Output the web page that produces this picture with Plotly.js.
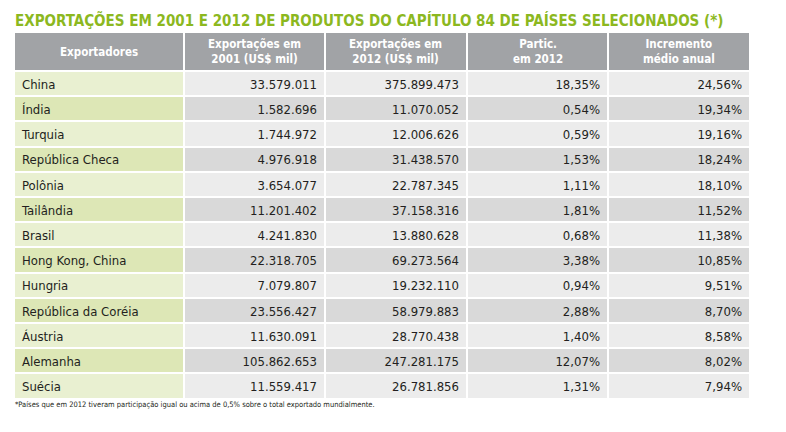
<!DOCTYPE html>
<html>
<head>
<meta charset="utf-8">
<script src="https://cdn.plot.ly/plotly-3.0.1.min.js"></script>
<style>
  html, body { margin: 0; padding: 0; background: #fff; }
  #chart { width: 786px; height: 432px; }
</style>
</head>
<body>
<div id="chart"></div>
<script>
const headers = [
  'Exportadores',
  'Exportações em<br>2001 (US$ mil)',
  'Exportações em<br>2012 (US$ mil)',
  'Partic.<br>em 2012',
  'Incremento<br>médio anual'
];
const exporters = [
  'China', 'Índia', 'Turquia', 'República Checa', 'Polônia', 'Tailândia', 'Brasil',
  'Hong Kong, China', 'Hungria', 'República da Coréia', 'Áustria', 'Alemanha', 'Suécia'
];
const exp2001 = [
  '33.579.011', '1.582.696', '1.744.972', '4.976.918', '3.654.077', '11.201.402', '4.241.830',
  '22.318.705', '7.079.807', '23.556.427', '11.630.091', '105.862.653', '11.559.417'
];
const exp2012 = [
  '375.899.473', '11.070.052', '12.006.626', '31.438.570', '22.787.345', '37.158.316', '13.880.628',
  '69.273.564', '19.232.110', '58.979.883', '28.770.438', '247.281.175', '26.781.856'
];
const share2012 = [
  '18,35%', '0,54%', '0,59%', '1,53%', '1,11%', '1,81%', '0,68%',
  '3,38%', '0,94%', '2,88%', '1,40%', '12,07%', '1,31%'
];
const growth = [
  '24,56%', '19,34%', '19,16%', '18,24%', '18,10%', '11,52%', '11,38%',
  '10,85%', '9,51%', '8,70%', '8,58%', '8,02%', '7,94%'
];

const FONT = '"DejaVu Sans Condensed", "Liberation Sans", sans-serif';
const W = 786, H = 432;
const colWidths = [170, 141, 142, 141, 142];
const tableLeft = 14, tableRight = 750;

const greenFill = exporters.map((_, i) => i % 2 === 0 ? '#e9f0d1' : '#dde7b6');
const grayFill = exporters.map((_, i) => i % 2 === 0 ? '#ececec' : '#d9d9d9');

// plotly grows the header row to fit two lines of text plus padding,
// so header labels go on as annotations over an empty header row
const trace = {
  type: 'table',
  domain: { x: [tableLeft / W, tableRight / W], y: [0, 1 - 32 / H] },
  columnwidth: colWidths,
  header: {
    values: headers.map(() => ''),
    height: 39,
    fill: { color: '#a1a3a6' },
    line: { color: '#ffffff', width: 2 },
    font: { family: FONT, size: 11.5, color: '#ffffff' }
  },
  cells: {
    values: [exporters, exp2001, exp2012, share2012, growth],
    align: ['left', 'right', 'right', 'right', 'right'],
    height: 25.2,
    fill: { color: [greenFill, grayFill, grayFill, grayFill, grayFill] },
    line: { color: '#ffffff', width: 2 },
    font: { family: FONT, size: 13, color: '#231f20' }
  }
};

const total = colWidths.reduce((a, b) => a + b, 0);
let acc = 0;
const headerNotes = headers.map((h, i) => {
  const w = colWidths[i] / total * (tableRight - tableLeft);
  const cx = tableLeft + acc + w / 2;
  acc += w;
  return {
    text: '<b>' + h + '</b>',
    xref: 'paper', yref: 'paper',
    x: cx / W, y: 1 - 52 / H,
    xanchor: 'center', yanchor: 'middle',
    showarrow: false,
    font: { family: FONT, size: 11.5, color: '#ffffff' }
  };
});

const layout = {
  width: W,
  height: H,
  margin: { l: 0, r: 0, t: 0, b: 0 },
  paper_bgcolor: '#ffffff',
  showlegend: false,
  annotations: [
    {
      text: '<b>EXPORTAÇÕES EM 2001 E 2012 DE PRODUTOS DO CAPÍTULO 84 DE PAÍSES SELECIONADOS (*)</b>',
      xref: 'paper', yref: 'paper',
      x: 13 / W, y: 1 - 9 / H,
      xanchor: 'left', yanchor: 'top',
      showarrow: false,
      font: { family: FONT, size: 15, color: '#8cb81f' }
    },
    ...headerNotes,
    {
      text: '*Países que em 2012 tiveram participação igual ou acima de 0,5% sobre o total exportado mundialmente.',
      xref: 'paper', yref: 'paper',
      x: 13 / W, y: 1 - 398 / H,
      xanchor: 'left', yanchor: 'top',
      showarrow: false,
      font: { family: FONT, size: 7.5, color: '#231f20' }
    }
  ]
};

Plotly.newPlot('chart', [trace], layout, { displayModeBar: false, staticPlot: true });
</script>
</body>
</html>
